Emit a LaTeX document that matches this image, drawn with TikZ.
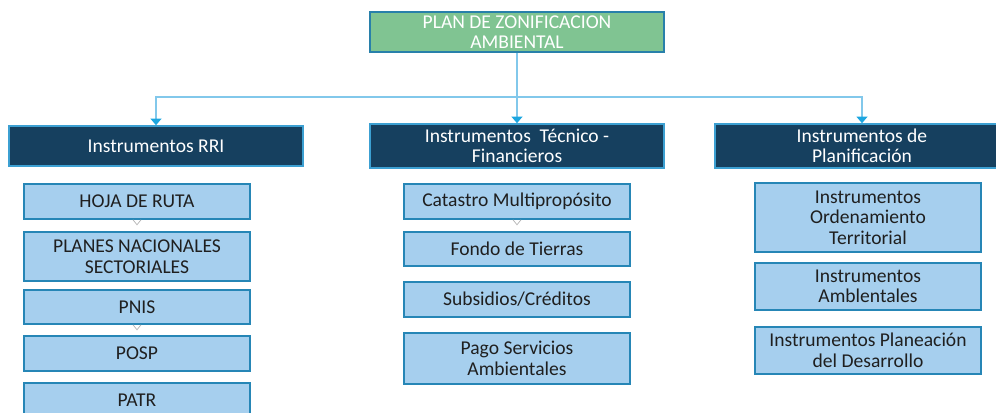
\documentclass[tikz,border=0pt]{standalone}
\usepackage{fontspec}
\setmainfont{Carlito}
\usetikzlibrary{arrows.meta,calc}
\definecolor{RootClr}{RGB}{128,196,146}
\definecolor{RootLine}{RGB}{40,128,170}
\definecolor{HeadClr}{RGB}{22,64,95}
\definecolor{HeadLine}{RGB}{60,160,210}
\definecolor{LeafClr}{RGB}{166,207,238}
\definecolor{LeafLine}{RGB}{38,134,182}
\definecolor{LinkClr}{RGB}{130,200,235}
\definecolor{TipClr}{RGB}{28,166,224}

\begin{document}
\begin{tikzpicture}[x=.3mm,y=-.3mm,
  root/.style={draw=RootLine,fill=RootClr,line width=1.3pt,text=white,minimum width=88.2mm,minimum height=12mm,align=center,inner sep=0pt,font=\fontsize{16.7}{17.5}\selectfont},
  head/.style={draw=HeadLine,fill=HeadClr,line width=1.3pt,text=white,minimum width=88.2mm,minimum height=13.2mm,align=center,inner sep=0pt,font=\fontsize{16.7}{17.5}\selectfont},
  leaf/.style={draw=LeafLine,fill=LeafClr,line width=1.3pt,text=black!88,minimum width=67.8mm,minimum height=10.5mm,align=center,inner sep=0pt,font=\fontsize{16.7}{17.5}\selectfont},
  link/.style={draw=LinkClr,line width=1.1pt},
  tip/.style={-{Triangle[width=3.3mm,length=2mm,color=TipClr]}},
  chev/.style={draw=black!30,line width=.6pt}]
\useasboundingbox (0,0) rectangle (996,413);
\clip (0,0) rectangle (996,413);

\node[root] (plan) at (517,32) {PLAN DE ZONIFICACION\\AMBIENTAL};

\node[head,minimum height=12mm] (rri) at (156,146) {Instrumentos RRI};
\node[head] (tec) at (517,146) {Instrumentos\ \ Técnico -\\Financieros};
\node[head] (pla) at (862,146) {Instrumentos de\\Planificación};

\coordinate (bar) at (517,97);
\draw[link] (plan) -- (bar);
\draw[link,tip] (bar) -| (rri);
\draw[link,tip] (bar) -- (tec);
\draw[link,tip] (bar) -| (pla);

\node[leaf] (hoja) at (137,201.5) {HOJA DE RUTA};
\node[leaf,minimum height=14.7mm] (planes) at (137,256.5) {PLANES NACIONALES\\SECTORIALES};
\node[leaf,minimum height=10.2mm] (pnis) at (137,307) {PNIS};
\node[leaf] (posp) at (137,353.5) {POSP};
\node[leaf] (patr) at (137,400.5) {PATR};

\node[leaf] (catastro) at (517,201.5) {Catastro Multipropósito};
\node[leaf,minimum height=10.2mm] (fondo) at (517,249) {Fondo de Tierras};
\node[leaf] (subsidios) at (517,299.5) {Subsidios/Créditos};
\node[leaf,minimum height=15.3mm] (pago) at (517,358.5) {Pago Servicios\\Ambientales};

\node[leaf,minimum height=20.7mm] (iot) at (868,217.5) {Instrumentos\\Ordenamiento\\Territorial};
\node[leaf,minimum height=14.1mm] (ia) at (868,286.5) {Instrumentos\\Amblentales};
\node[leaf,minimum height=14.1mm] (ipd) at (868,350.5) {Instrumentos Planeación\\del Desarrollo};

\draw[chev] ($(hoja.south)+(-4,0)$) -- ($(hoja.south)+(0,5)$) -- ($(hoja.south)+(4,0)$);
\draw[chev] ($(pnis.south)+(-4,0)$) -- ($(pnis.south)+(0,5)$) -- ($(pnis.south)+(4,0)$);
\draw[chev] ($(catastro.south)+(-4,0)$) -- ($(catastro.south)+(0,5)$) -- ($(catastro.south)+(4,0)$);

\end{tikzpicture}
\end{document}
